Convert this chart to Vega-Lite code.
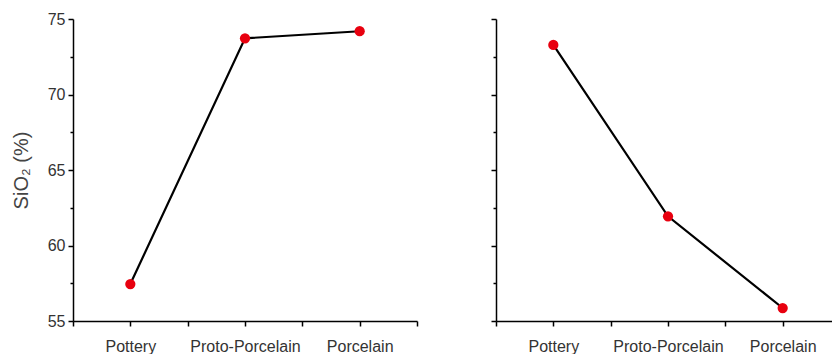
{
  "$schema": "https://vega.github.io/schema/vega-lite/v6.json",
  "autosize": {"type": "pad"},
  "padding": {"left": 11, "top": 11, "right": 0, "bottom": 0},
  "background": "white",
  "config": {
    "view": {"stroke": null},
    "font": "Liberation Sans",
    "axis": {
      "domainColor": "#000",
      "domainWidth": 1.5,
      "tickColor": "#000",
      "tickWidth": 1.5,
      "grid": false,
      "labelFont": "Liberation Sans",
      "labelFontSize": 16,
      "labelColor": "#333",
      "titleFont": "Liberation Sans",
      "titleFontSize": 20,
      "titleFontWeight": "normal",
      "titleColor": "#444"
    }
  },
  "spacing": 72,
  "hconcat": [
    {
      "width": 344,
      "height": 302,
      "data": {"values": [
        {"category": "Pottery", "order": 1, "sio2": 57.45},
        {"category": "Proto-Porcelain", "order": 2, "sio2": 73.72},
        {"category": "Porcelain", "order": 3, "sio2": 74.19}
      ]},
      "encoding": {
        "x": {
          "field": "order", "type": "quantitative",
          "scale": {"domain": [0.5, 3.5], "nice": false, "zero": false},
          "axis": {
            "title": null,
            "values": [0.5, 1, 1.5, 2, 2.5, 3, 3.5],
            "tickSize": 5,
            "labelPadding": 12,
            "labelExpr": "datum.value == 1 ? 'Pottery' : datum.value == 2 ? 'Proto-Porcelain' : datum.value == 3 ? 'Porcelain' : ''"
          }
        },
        "y": {
          "field": "sio2", "type": "quantitative",
          "scale": {"domain": [55, 75], "nice": false, "zero": false},
          "axis": {
            "title": "SiO₂ (%)",
            "titlePadding": 16,
            "values": [55, 57.5, 60, 62.5, 65, 67.5, 70, 72.5, 75],
            "tickSize": {"condition": {"test": "datum.value % 5 === 0", "value": 5}, "value": 3},
            "labelPadding": 3,
            "labelExpr": "datum.value % 5 === 0 ? datum.label : ''"
          }
        }
      },
      "layer": [
        {"mark": {"type": "line", "color": "#000", "strokeWidth": 2.2}},
        {"mark": {"type": "circle", "color": "#e8000f", "opacity": 1, "size": 105}}
      ]
    },
    {
      "width": 338,
      "height": 302,
      "data": {"values": [
        {"category": "Pottery", "order": 1, "sio2": 73.28},
        {"category": "Proto-Porcelain", "order": 2, "sio2": 61.93},
        {"category": "Porcelain", "order": 3, "sio2": 55.86}
      ]},
      "encoding": {
        "x": {
          "field": "order", "type": "quantitative",
          "scale": {"domain": [0.5, 3.4477], "nice": false, "zero": false},
          "axis": {
            "title": null,
            "values": [0.5, 1, 1.5, 2, 2.5, 3],
            "tickSize": 5,
            "labelPadding": 12,
            "labelExpr": "datum.value == 1 ? 'Pottery' : datum.value == 2 ? 'Proto-Porcelain' : datum.value == 3 ? 'Porcelain' : ''"
          }
        },
        "y": {
          "field": "sio2", "type": "quantitative",
          "scale": {"domain": [55, 75], "nice": false, "zero": false},
          "axis": {
            "title": null,
            "values": [55, 57.5, 60, 62.5, 65, 67.5, 70, 72.5, 75],
            "tickSize": {"condition": {"test": "datum.value % 5 === 0", "value": 5}, "value": 3},
            "labels": false
          }
        }
      },
      "layer": [
        {"mark": {"type": "line", "color": "#000", "strokeWidth": 2.2}},
        {"mark": {"type": "circle", "color": "#e8000f", "opacity": 1, "size": 105}}
      ]
    }
  ]
}
